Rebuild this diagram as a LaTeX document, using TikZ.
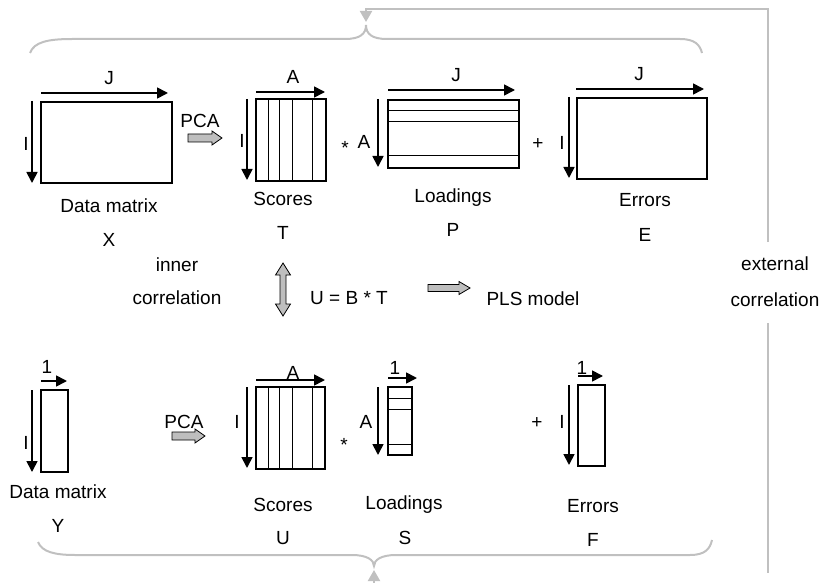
\documentclass[tikz,border=0pt]{standalone}
\usepackage{fontspec}
\setmainfont{Liberation Sans}
\usetikzlibrary{arrows.meta}
\definecolor{brc}{RGB}{192,192,192}
\definecolor{arf}{RGB}{190,190,190}
\begin{document}
\begin{tikzpicture}[x=1pt,y=-1pt, font=\fontsize{19}{22}\selectfont,
  mat/.style={draw, line width=2.7pt, inner sep=0pt, outer sep=0pt},
  dim/.style={line width=1.7pt, -{Triangle[length=11pt,width=11pt]}},
  sep/.style={line width=1pt},
  lab/.style={anchor=base, inner sep=0pt},
  brace/.style={draw=brc, line width=2pt},
  ext/.style={draw=brc, line width=2pt},
  barrow/.style={draw=black, line width=0.8pt, fill=arf, line join=miter}]
\useasboundingbox (0,0) rectangle (822,583);

% ---------- matrices ----------
\node[mat, minimum width=131pt, minimum height=81pt] (X) at (106.5,142.5) {};
\node[mat, minimum width=70pt,  minimum height=82pt] (T) at (291,140) {};
\node[mat, minimum width=131pt, minimum height=68pt] (P) at (453.5,134) {};
\node[mat, minimum width=130pt, minimum height=81pt] (E) at (642,138.5) {};
\node[mat, minimum width=27pt,  minimum height=82pt] (Y) at (54.5,431) {};
\node[mat, minimum width=69pt,  minimum height=82pt] (U) at (290.5,428) {};
\node[mat, minimum width=24pt,  minimum height=68pt] (S) at (400,421) {};
\node[mat, minimum width=27pt,  minimum height=81pt] (F) at (591.5,425.5) {};

% inner separators
\foreach \d in {12,23,36,56} {
  \draw[sep] ([xshift=\d pt]T.north west) -- ([xshift=\d pt]T.south west);
  \draw[sep] ([xshift=\d pt]U.north west) -- ([xshift=\d pt]U.south west);
}
\foreach \d in {11,22,56} {
  \draw[sep] ([yshift=-\d pt]P.north west) -- ([yshift=-\d pt]P.north east);
}
\foreach \d in {11,22,57} {
  \draw[sep] ([yshift=-\d pt]S.north west) -- ([yshift=-\d pt]S.north east);
}

% ---------- dimension arrows ----------
\draw[dim] (41,93) -- (168,93);   \draw[dim] (32,101) -- (32,183);
\draw[dim] (256,92) -- (325,92);  \draw[dim] (247,99) -- (247,180);
\draw[dim] (388,90) -- (515,90);  \draw[dim] (378,99) -- (378,167);
\draw[dim] (576,89) -- (704,89);  \draw[dim] (569,97) -- (569,178);
\draw[dim] (41,381) -- (67,381);  \draw[dim] (32,390) -- (32,472);
\draw[dim] (256,380) -- (325,380);\draw[dim] (247,387) -- (247,468);
\draw[dim] (388,378) -- (417,378);\draw[dim] (378,387) -- (378,455);
\draw[dim] (578,376) -- (603,376);\draw[dim] (569,385) -- (569,465);

% ---------- labels ----------
\node[lab] (lJX) at (109,84.5) {J};
\node[lab] (lIX) at (26,150.5) {I};
\node[lab] (lDX) at (109,212.5) {Data matrix};
\node[lab] (lX)  at (109,246.5) {X};
\node[lab] (lPCA1) at (200,127.5) {PCA};
\node[lab] (lAT) at (293,83.5) {A};
\node[lab] (lIT) at (242,147.5) {I};
\node[lab] (lST) at (283,205.5) {Scores};
\node[lab] (lT)  at (283,239.5) {T};
\node[lab] (ast1) at (345,155) {*};
\node[lab] (lAP) at (364,148.5) {A};
\node[lab] (lJP) at (456,81.5) {J};
\node[lab] (lLP) at (453,202.5) {Loadings};
\node[lab] (lP)  at (453,236.5) {P};
\node[lab] (plus1) at (538,149.5) {+};
\node[lab] (lIE) at (562,149.5) {I};
\node[lab] (lJE) at (639,80.5) {J};
\node[lab] (lEE) at (645,206.5) {Errors};
\node[lab] (lE)  at (645,241.5) {E};

\node[lab] (inner) at (177,271.5) {inner};
\node[lab] (icorr) at (177,304.5) {correlation};
\node[lab] (ubt) at (349,304.5) {U = B * T};
\node[lab] (pls) at (533,305) {PLS model};
\node[lab] (extl) at (775,270) {external};
\node[lab] (ecorr) at (775,306) {correlation};

\node[lab] (l1Y) at (47,373.5) {1};
\node[lab] (lIY) at (26,449.5) {I};
\node[lab] (lDY) at (58,498) {Data matrix};
\node[lab] (lY)  at (58,532.5) {Y};
\node[lab] (lPCA2) at (184,428.5) {PCA};
\node[lab] (lAU) at (293,379.5) {A};
\node[lab] (lIU) at (237,428.5) {I};
\node[lab] (ast2) at (344,451) {*};
\node[lab] (lSU) at (283,511.5) {Scores};
\node[lab] (lU)  at (283,544.5) {U};
\node[lab] (lAS) at (366,428.5) {A};
\node[lab] (l1S) at (395,374.5) {1};
\node[lab] (lLS) at (404,509.5) {Loadings};
\node[lab] (lS)  at (405,544.5) {S};
\node[lab] (plus2) at (537,428.5) {+};
\node[lab] (lIF) at (562,428.5) {I};
\node[lab] (l1F) at (582,374.5) {1};
\node[lab] (lEF) at (593,512.5) {Errors};
\node[lab] (lF)  at (593,546.5) {F};

% ---------- block arrows ----------
\draw[barrow] (188,134) -- ++(24,0) -- ++(0,-3) -- ++(10,7) -- ++(-10,7) -- ++(0,-3) -- ++(-24,0) -- cycle;
\draw[barrow] (172,432) -- ++(23,0) -- ++(0,-3) -- ++(10,7) -- ++(-10,7) -- ++(0,-3) -- ++(-23,0) -- cycle;
\draw[barrow] (428,284.5) -- ++(31,0) -- ++(0,-3) -- ++(11,6.5) -- ++(-11,6.5) -- ++(0,-3) -- ++(-31,0) -- cycle;
\draw[barrow] (283,263) -- (290.5,275) -- (286,275) -- (286,304) -- (290.5,304) -- (283,316)
  -- (275.5,304) -- (280,304) -- (280,275) -- (275.5,275) -- cycle;

% ---------- braces ----------
\coordinate (topTip) at (366,25);
\coordinate (botTip) at (374,566);
\draw[brace] (30,53) .. controls (34,42) and (48,39) .. (72,39) -- (345,39)
  .. controls (360,39) and (366,34) .. (topTip)
  .. controls (366,34) and (372,39) .. (387,39) -- (680,39)
  .. controls (695,39) and (700,45) .. (702,53);
\draw[brace] (38,542) .. controls (42,552) and (55,555) .. (75,555) -- (352,555)
  .. controls (367,555) and (374,560) .. (botTip)
  .. controls (374,560) and (381,555) .. (396,555) -- (690,555)
  .. controls (705,555) and (710,549) .. (712,540);

% ---------- external correlation connectors ----------
\coordinate (extTop) at (768,242);
\coordinate (extBot) at (768,323);
\coordinate (corner) at (768,9);
\coordinate (topArr) at (366,22);
\draw[ext, -{Triangle[length=11pt,width=12pt]}] (extTop) -- (corner) -- (366,9) -- (topArr);
\draw[ext] (extBot) -- (768,573);
\coordinate (botStart) at (374,584);
\coordinate (botArr) at (374,570);
\draw[ext, -{Triangle[length=11pt,width=12pt]}] (botStart) -- (botArr);
\end{tikzpicture}
\end{document}
